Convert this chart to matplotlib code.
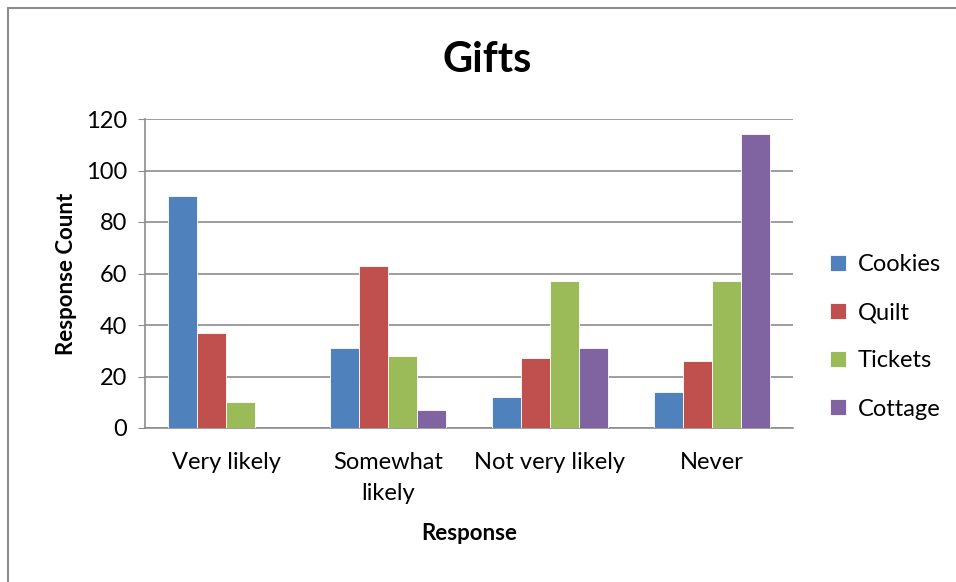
import numpy as np
import matplotlib.pyplot as plt
from matplotlib.patches import Rectangle

plt.rcParams['font.family'] = ['Lato', 'DejaVu Sans']

categories = ["Very likely", "Somewhat\nlikely", "Not very likely", "Never"]
series = ["Cookies", "Quilt", "Tickets", "Cottage"]
cookies = [90, 31, 12, 14]
quilt = [37, 63, 27, 26]
tickets = [10, 28, 57, 57]
cottage = [0, 7, 31, 114]
colors = ["#4f81bd", "#c0504d", "#9bbb59", "#8064a2"]

fig = plt.figure(figsize=(9.56, 5.82), dpi=100)
ax = fig.add_axes([145/956, 1-428/582, 648/956, 309/582])

x = np.arange(len(categories))
w = 0.18
for i, (name, vals) in enumerate(zip(series, [cookies, quilt, tickets, cottage])):
    ax.bar(x + (i - 1.5) * w, vals, w, color=colors[i], label=name,
           edgecolor='white', linewidth=0.6, zorder=3)

ax.set_xlim(-0.5, 3.5)
ax.set_ylim(0, 120)
ax.set_yticks(range(0, 121, 20))
ax.yaxis.grid(True, color='#8c8c8c', linewidth=1.2, zorder=0)
for s in ['top', 'right']:
    ax.spines[s].set_visible(False)
ax.spines['left'].set_color('#8c8c8c')
ax.spines['bottom'].set_color('#8c8c8c')
ax.spines['left'].set_linewidth(1.2)
ax.spines['bottom'].set_linewidth(1.2)
ax.set_xticks(x)
ax.set_xticklabels(categories, fontsize=17, linespacing=1.6)
ax.tick_params(axis='x', length=0, pad=17)
ax.tick_params(axis='y', labelsize=17, length=5, color='#8c8c8c', direction='out', pad=8)
ax.set_xlabel("Response", fontsize=16, fontweight='bold', labelpad=14)
ax.set_ylabel("Response Count", fontsize=16, fontweight='bold', labelpad=6)
fig.text(487/956, 1-60/582, "Gifts", ha='center', va='center', fontsize=30, fontweight='bold')

leg = ax.legend(loc='center left', bbox_to_anchor=(1.025, 0.295), frameon=False,
                fontsize=17, handlelength=0.65, handleheight=0.65, labelspacing=1.15,
                handletextpad=0.5)

fig.patches.append(Rectangle((8/956, -0.1), 1.1, 1-8/582 + 0.1, transform=fig.transFigure,
                             fill=False, edgecolor='#8c8c8c', linewidth=1.5))

fig.savefig("out.png", dpi=100)
